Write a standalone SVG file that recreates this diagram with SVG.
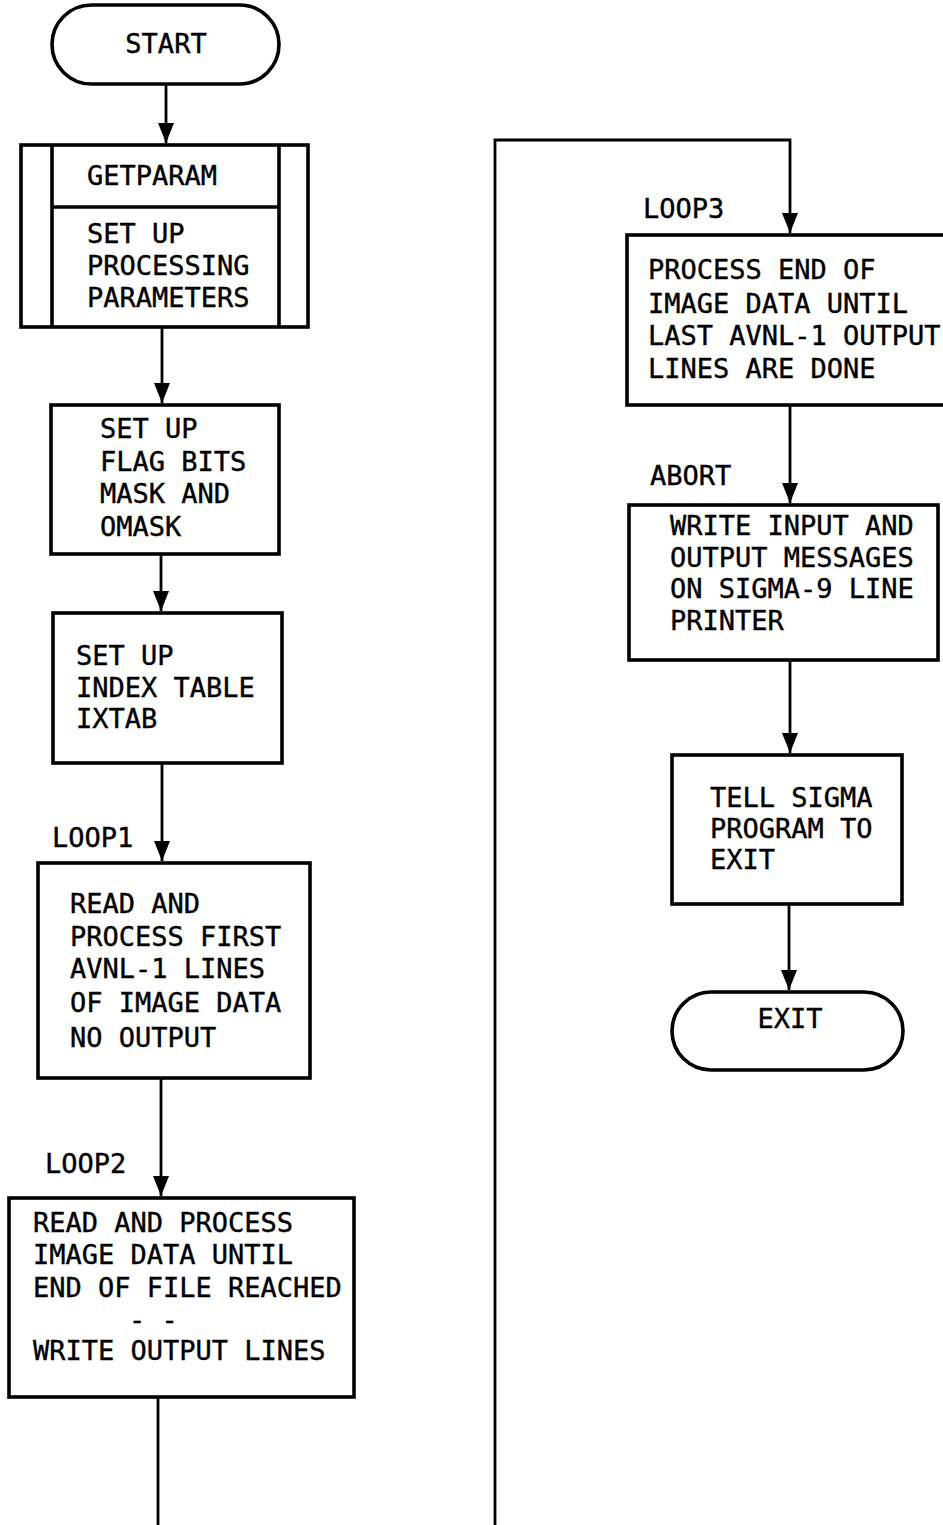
<svg xmlns="http://www.w3.org/2000/svg" width="943" height="1525" viewBox="0 0 943 1525">
<defs>
<style>
.box{fill:#fff;stroke:#000;stroke-width:3.6}
.ln{fill:none;stroke:#000;stroke-width:2.8}
.div{stroke:#000;stroke-width:3.6}
text{font-family:"DejaVu Sans Mono","Liberation Mono",monospace;font-size:27px;fill:#000;stroke:#000;stroke-width:0.4}
</style>
<marker id="arr" markerUnits="userSpaceOnUse" markerWidth="20" markerHeight="16" viewBox="0 0 20 16" refX="20" refY="8" orient="auto">
<path d="M0,0 L20,8 L0,16 Z" fill="#000"/>
</marker>
</defs>
<rect width="943" height="1525" fill="#fff"/>
<g id="connectors">
<line class="ln" x1="166" y1="84" x2="166" y2="143" marker-end="url(#arr)"/>
<line class="ln" x1="162" y1="327" x2="162" y2="403" marker-end="url(#arr)"/>
<line class="ln" x1="161" y1="554" x2="161" y2="611" marker-end="url(#arr)"/>
<line class="ln" x1="162" y1="763" x2="162" y2="861" marker-end="url(#arr)"/>
<line class="ln" x1="161" y1="1078" x2="161" y2="1196" marker-end="url(#arr)"/>
<line class="ln" x1="158" y1="1397" x2="158" y2="1525"/>
<polyline class="ln" points="495,1525 495,140 790,140 790,233" marker-end="url(#arr)"/>
<line class="ln" x1="790" y1="405" x2="790" y2="503" marker-end="url(#arr)"/>
<line class="ln" x1="790" y1="660" x2="790" y2="753" marker-end="url(#arr)"/>
<line class="ln" x1="789" y1="904" x2="789" y2="990" marker-end="url(#arr)"/>
</g>
<g id="start">
<rect class="box" x="52" y="5" width="227" height="79" rx="39.5" ry="39.5"/>
<text x="166" y="53" text-anchor="middle">START</text>
</g>
<g id="getparam">
<rect class="box" x="21" y="145" width="287" height="182"/>
<line class="div" x1="52" y1="145" x2="52" y2="327"/>
<line class="div" x1="279" y1="145" x2="279" y2="327"/>
<line class="div" x1="52" y1="207" x2="279" y2="207"/>
<text x="87" y="185">GETPARAM</text>
<text x="87" y="243">SET UP</text>
<text x="87" y="275">PROCESSING</text>
<text x="87" y="307">PARAMETERS</text>
</g>
<g id="flagbits">
<rect class="box" x="51" y="405" width="228" height="149"/>
<text x="100" y="438">SET UP</text>
<text x="100" y="471">FLAG BITS</text>
<text x="100" y="503">MASK AND</text>
<text x="100" y="536">OMASK</text>
</g>
<g id="ixtab">
<rect class="box" x="53" y="613" width="229" height="150"/>
<text x="76" y="665">SET UP</text>
<text x="76" y="697">INDEX TABLE</text>
<text x="76" y="728">IXTAB</text>
</g>
<g id="loop1">
<text x="52" y="847">LOOP1</text>
<rect class="box" x="38" y="863" width="272" height="215"/>
<text x="70" y="913">READ AND</text>
<text x="70" y="946">PROCESS FIRST</text>
<text x="70" y="978">AVNL-1 LINES</text>
<text x="70" y="1012">OF IMAGE DATA</text>
<text x="70" y="1047">NO OUTPUT</text>
</g>
<g id="loop2">
<text x="45" y="1173">LOOP2</text>
<rect class="box" x="9" y="1198" width="345" height="199"/>
<text x="33" y="1232">READ AND PROCESS</text>
<text x="33" y="1264">IMAGE DATA UNTIL</text>
<text x="33" y="1297">END OF FILE REACHED</text>
<text x="129" y="1329">-  -</text>
<text x="33" y="1360">WRITE OUTPUT LINES</text>
</g>
<g id="loop3">
<text x="643" y="218">LOOP3</text>
<rect class="box" x="627" y="235" width="330" height="170"/>
<text x="648" y="279">PROCESS END OF</text>
<text x="648" y="313">IMAGE DATA UNTIL</text>
<text x="648" y="345">LAST AVNL-1 OUTPUT</text>
<text x="648" y="378">LINES ARE DONE</text>
</g>
<g id="abort">
<text x="650" y="485">ABORT</text>
<rect class="box" x="629" y="505" width="309" height="155"/>
<text x="670" y="535">WRITE INPUT AND</text>
<text x="670" y="567">OUTPUT MESSAGES</text>
<text x="670" y="598">ON SIGMA-9 LINE</text>
<text x="670" y="630">PRINTER</text>
</g>
<g id="tellsigma">
<rect class="box" x="672" y="755" width="230" height="149"/>
<text x="710" y="807">TELL SIGMA</text>
<text x="710" y="838">PROGRAM TO</text>
<text x="710" y="869">EXIT</text>
</g>
<g id="exit">
<rect class="box" x="672" y="992" width="231" height="78" rx="39" ry="39"/>
<text x="790" y="1028" text-anchor="middle">EXIT</text>
</g>
</svg>
